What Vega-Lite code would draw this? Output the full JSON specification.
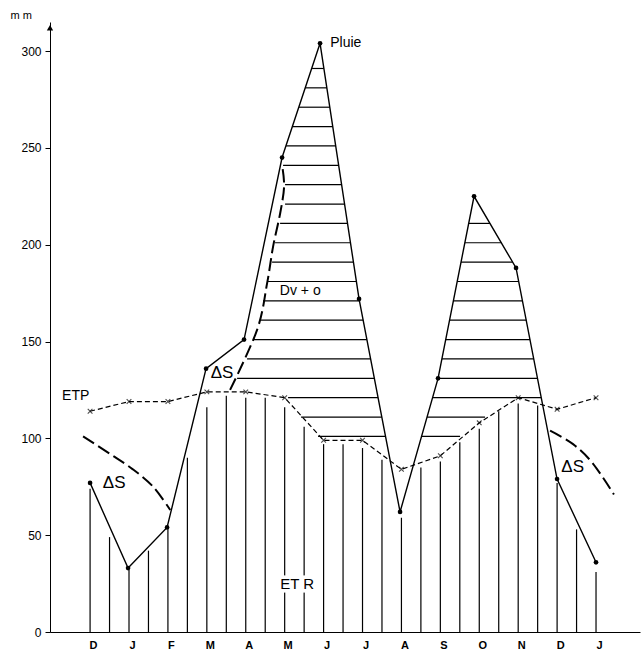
{
  "$schema": "https://vega.github.io/schema/vega-lite/v6.json",
  "width": 590,
  "height": 610,
  "autosize": {"type": "none"},
  "padding": {"left": 50, "top": 22, "right": 2, "bottom": 23},
  "background": "white",
  "config": {"view": {"stroke": null}, "font": "Liberation Sans"},
  "datasets": {
    "pluie": [
      {"x": 0, "y": 77}, {"x": 0.976, "y": 33}, {"x": 1.978, "y": 54}, {"x": 2.98, "y": 136},
      {"x": 3.956, "y": 151}, {"x": 4.933, "y": 245}, {"x": 5.909, "y": 304}, {"x": 6.911, "y": 172},
      {"x": 7.965, "y": 62}, {"x": 8.941, "y": 131}, {"x": 9.866, "y": 225}, {"x": 10.945, "y": 188},
      {"x": 11.999, "y": 79}, {"x": 13, "y": 36}
    ],
    "etp": [
      {"x": 0, "y": 114}, {"x": 1, "y": 119}, {"x": 2, "y": 119}, {"x": 3, "y": 124},
      {"x": 4, "y": 124}, {"x": 5, "y": 121}, {"x": 6, "y": 99}, {"x": 7, "y": 99},
      {"x": 8, "y": 84}, {"x": 9, "y": 91}, {"x": 10, "y": 108}, {"x": 11, "y": 121},
      {"x": 12, "y": 115}, {"x": 13, "y": 121}
    ],
    "etr": [
      {"x": 0, "y": 74}, {"x": 0.5, "y": 49}, {"x": 1, "y": 32}, {"x": 1.5, "y": 42},
      {"x": 2, "y": 53}, {"x": 2.5, "y": 90}, {"x": 3, "y": 116}, {"x": 3.5, "y": 122},
      {"x": 4, "y": 121}, {"x": 4.5, "y": 121}, {"x": 5, "y": 116}, {"x": 5.5, "y": 106},
      {"x": 6, "y": 97}, {"x": 6.5, "y": 97}, {"x": 7, "y": 95}, {"x": 7.5, "y": 89},
      {"x": 8, "y": 59}, {"x": 8.5, "y": 85}, {"x": 9, "y": 88}, {"x": 9.5, "y": 98},
      {"x": 10, "y": 105}, {"x": 10.5, "y": 114}, {"x": 11, "y": 118}, {"x": 11.5, "y": 117},
      {"x": 12, "y": 77}, {"x": 12.5, "y": 53}, {"x": 13, "y": 31}
    ],
    "hatch": [
      {"y": 101, "x": 5.858, "x2": 7.593}, {"y": 111, "x": 5.421, "x2": 7.495},
      {"y": 121, "x": 5.087, "x2": 7.4}, {"y": 131, "x": 3.777, "x2": 7.305},
      {"y": 141, "x": 4.034, "x2": 7.21}, {"y": 151, "x": 4.188, "x2": 7.112},
      {"y": 161, "x": 4.368, "x2": 7.017}, {"y": 171, "x": 4.445, "x2": 6.922},
      {"y": 181, "x": 4.573, "x2": 6.842}, {"y": 191, "x": 4.676, "x2": 6.768},
      {"y": 201, "x": 4.753, "x2": 6.691}, {"y": 211, "x": 4.882, "x2": 6.616},
      {"y": 221, "x": 5.01, "x2": 6.539}, {"y": 231, "x": 5.01, "x2": 6.465},
      {"y": 241, "x": 4.959, "x2": 6.388}, {"y": 251, "x": 5.036, "x2": 6.313},
      {"y": 261, "x": 5.19, "x2": 6.236}, {"y": 271, "x": 5.37, "x2": 6.161},
      {"y": 281, "x": 5.524, "x2": 6.084}, {"y": 291, "x": 5.704, "x2": 6.007},
      {"y": 101, "x": 8.517, "x2": 9.507}, {"y": 111, "x": 8.659, "x2": 10.149},
      {"y": 121, "x": 8.8, "x2": 11.588}, {"y": 131, "x": 8.941, "x2": 11.495},
      {"y": 141, "x": 9.039, "x2": 11.4}, {"y": 151, "x": 9.139, "x2": 11.305},
      {"y": 161, "x": 9.237, "x2": 11.21}, {"y": 171, "x": 9.335, "x2": 11.113},
      {"y": 181, "x": 9.435, "x2": 11.017}, {"y": 191, "x": 9.532, "x2": 10.858},
      {"y": 201, "x": 9.63, "x2": 10.565}, {"y": 211, "x": 9.728, "x2": 10.275}
    ],
    "ds": [
      {"curve": "a", "seq": 1, "x": -0.18, "y": 101}, {"curve": "a", "seq": 2, "x": 0.51, "y": 92},
      {"curve": "a", "seq": 3, "x": 1.1, "y": 84}, {"curve": "a", "seq": 4, "x": 1.62, "y": 75},
      {"curve": "a", "seq": 5, "x": 2.06, "y": 63},
      {"curve": "b", "seq": 1, "x": 3.597, "y": 125}, {"curve": "b", "seq": 2, "x": 4.291, "y": 156},
      {"curve": "b", "seq": 3, "x": 4.548, "y": 180}, {"curve": "b", "seq": 4, "x": 4.702, "y": 199},
      {"curve": "b", "seq": 5, "x": 4.882, "y": 216}, {"curve": "b", "seq": 6, "x": 4.985, "y": 230},
      {"curve": "b", "seq": 7, "x": 4.933, "y": 241},
      {"curve": "c", "seq": 1, "x": 11.82, "y": 104}, {"curve": "c", "seq": 2, "x": 12.41, "y": 97},
      {"curve": "c", "seq": 3, "x": 12.92, "y": 87}, {"curve": "c", "seq": 4, "x": 13.46, "y": 71}
    ],
    "dslabels": [
      {"t": "ΔS", "x": 0.62, "y": 77}, {"t": "ΔS", "x": 3.39, "y": 134}, {"t": "ΔS", "x": 12.4, "y": 85}
    ],
    "labels": [
      {"t": "Pluie", "x": 6.17, "y": 304, "a": "left"},
      {"t": "ETP", "x": -0.72, "y": 122, "a": "left"},
      {"t": "Dv + o", "x": 5.4, "y": 176, "a": "center"}
    ],
    "etrlabel": [{"t": "ET R", "x": 5.32, "y": 25}],
    "unit": [{"t": "m m", "x": -1.77, "y": 318}],
    "arrow": [{"x": -1.03, "y": 312}]
  },
  "encoding": {
    "x": {
      "field": "x", "type": "quantitative",
      "scale": {"domain": [-1.03, 14.13], "nice": false, "zero": false},
      "axis": {
        "values": [0, 1, 2, 3, 4, 5, 6, 7, 8, 9, 10, 11, 12, 13],
        "labelExpr": "['D','J','F','M','A','M','J','J','A','S','O','N','D','J'][datum.value]",
        "title": null, "ticks": false, "grid": false, "domainColor": "black",
        "labelColor": "black", "labelFontSize": 11, "labelFontWeight": "bold",
        "labelPadding": 7, "labelOffset": 3, "labelFlush": false
      }
    },
    "y": {
      "field": "y", "type": "quantitative",
      "scale": {"domain": [0, 315], "nice": false},
      "axis": {
        "values": [0, 50, 100, 150, 200, 250, 300], "title": null, "grid": false,
        "tickSize": 5, "labelFontSize": 12, "labelPadding": 4, "domainColor": "black",
        "tickColor": "black", "labelColor": "black", "labelFlush": false
      }
    }
  },
  "layer": [
    {
      "data": {"name": "etr"},
      "mark": {"type": "rule", "color": "black", "strokeWidth": 1.2},
      "encoding": {"y2": {"datum": 0}}
    },
    {
      "data": {"name": "hatch"},
      "mark": {"type": "rule", "color": "black", "strokeWidth": 1.2},
      "encoding": {"x2": {"field": "x2"}}
    },
    {
      "data": {"name": "etp"},
      "mark": {"type": "line", "color": "black", "strokeWidth": 1.2, "strokeDash": [5, 3]},
      "encoding": {}
    },
    {
      "data": {"name": "etp"},
      "mark": {"type": "point", "shape": "M-1,-1L1,1M-1,1L1,-1", "stroke": "black", "strokeWidth": 1.1, "size": 22, "filled": false},
      "encoding": {}
    },
    {
      "data": {"name": "pluie"},
      "mark": {"type": "line", "color": "black", "strokeWidth": 1.4},
      "encoding": {}
    },
    {
      "data": {"name": "pluie"},
      "mark": {"type": "point", "shape": "circle", "filled": true, "color": "black", "size": 22, "opacity": 1},
      "encoding": {}
    },
    {
      "data": {"name": "ds"},
      "mark": {"type": "line", "color": "black", "strokeWidth": 2, "strokeDash": [13, 5], "interpolate": "cardinal"},
      "encoding": {"detail": {"field": "curve"}, "order": {"field": "seq"}}
    },
    {
      "data": {"name": "dslabels"},
      "mark": {"type": "text", "fontSize": 17, "color": "black", "align": "center", "baseline": "middle"},
      "encoding": {"text": {"field": "t"}}
    },
    {
      "data": {"name": "etrlabel"},
      "mark": {"type": "text", "fontSize": 15, "stroke": "white", "strokeWidth": 7, "color": "white", "align": "center", "baseline": "middle"},
      "encoding": {"text": {"field": "t"}}
    },
    {
      "data": {"name": "etrlabel"},
      "mark": {"type": "text", "fontSize": 15, "color": "black", "align": "center", "baseline": "middle"},
      "encoding": {"text": {"field": "t"}}
    },
    {
      "data": {"name": "labels"},
      "transform": [{"filter": "datum.a == 'left'"}],
      "mark": {"type": "text", "fontSize": 14, "color": "black", "align": "left", "baseline": "middle"},
      "encoding": {"text": {"field": "t"}}
    },
    {
      "data": {"name": "labels"},
      "transform": [{"filter": "datum.a == 'center'"}],
      "mark": {"type": "text", "fontSize": 14, "color": "black", "align": "center", "baseline": "middle"},
      "encoding": {"text": {"field": "t"}}
    },
    {
      "data": {"name": "unit"},
      "mark": {"type": "text", "fontSize": 11, "color": "black", "align": "center", "baseline": "middle"},
      "encoding": {"text": {"field": "t"}}
    },
    {
      "data": {"name": "arrow"},
      "mark": {"type": "point", "shape": "triangle-up", "filled": true, "color": "black", "size": 40, "opacity": 1},
      "encoding": {}
    }
  ]
}
